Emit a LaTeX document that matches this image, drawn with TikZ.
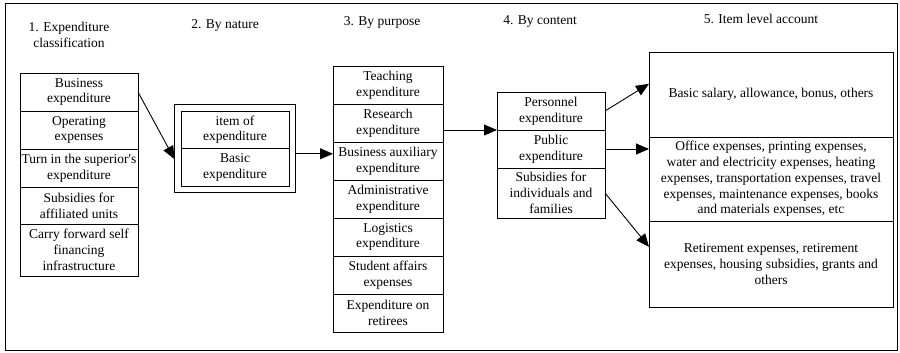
\documentclass[tikz,border=0pt]{standalone}
\usepackage{fontspec}
\setmainfont{Liberation Serif}
\usetikzlibrary{positioning,fit,arrows.meta}

\tikzset{
  cell/.style={draw, line width=0.9pt, align=center, inner sep=0.5pt, outer sep=0pt},
  colA/.style={cell, minimum width=118pt, minimum height=38pt},
  colB/.style={cell, minimum width=108pt, minimum height=37.5pt},
  colC/.style={cell, minimum width=110pt, minimum height=38pt},
  colD/.style={cell, minimum width=108pt, minimum height=38pt},
  colE/.style={cell, minimum width=244pt, minimum height=85pt},
  head/.style={align=center, inner sep=0pt},
  flow/.style={line width=0.9pt, -{Triangle[length=13pt,width=11pt]}},
}

\begin{document}
\begin{tikzpicture}[x=1pt,y=-1pt,font=\fontsize{13.5}{15.8}\selectfont]
\useasboundingbox (0,0) rectangle (900,353);
\draw [line width=0.9pt] (5,3) rectangle (897,350);
% headings
\node[head] (h1) at (69,35) {1. Expenditure\\classification};
\node[head] (h2) at (225,25) {2. By nature};
\node[head] (h3) at (382,22) {3. By purpose};
\node[head] (h4) at (540,22) {4. By content};
\node[head] (h5) at (761,19) {5. Item level account};
% 1. expenditure classification
\node[colA, anchor=north] (c1a) at (79,73) {Business\\expenditure};
\node[colA, below=0pt of c1a] (c1b) {Operating\\expenses};
\node[colA, below=0pt of c1b] (c1c) {Turn in the superior\textquotesingle s\\expenditure};
\node[colA, below=0pt of c1c, minimum height=37pt] (c1d) {Subsidies for\\affiliated units};
\node[colA, below=0pt of c1d, minimum height=52pt] (c1e) {Carry forward self\\financing\\infrastructure};
% 2. by nature
\node[colB, anchor=north] (c2a) at (235,111) {item of\\expenditure};
\node[colB, below=0pt of c2a] (c2b) {Basic\\expenditure};
\node[draw, line width=0.9pt, inner sep=6.5pt, outer sep=0pt, fit=(c2a)(c2b)] (c2box) {};
% 3. by purpose
\node[colC, anchor=north] (c3a) at (388,66) {Teaching\\expenditure};
\node[colC, below=0pt of c3a] (c3b) {Research\\expenditure};
\node[colC, below=0pt of c3b] (c3c) {Business auxiliary\\expenditure};
\node[colC, below=0pt of c3c] (c3d) {Administrative\\expenditure};
\node[colC, below=0pt of c3d] (c3e) {Logistics\\expenditure};
\node[colC, below=0pt of c3e] (c3f) {Student affairs\\expenses};
\node[colC, below=0pt of c3f] (c3g) {Expenditure on\\retirees};
% 4. by content
\node[colD, anchor=north] (c4a) at (551,92) {Personnel\\expenditure};
\node[colD, below=0pt of c4a] (c4b) {Public\\expenditure};
\node[colD, below=0pt of c4b, minimum height=50pt] (c4c) {Subsidies for\\individuals and\\families};
% 5. item level account
\node[colE, anchor=north] (c5a) at (771,52) {Basic salary, allowance, bonus, others};
\node[colE, below=0pt of c5a, minimum height=84pt] (c5b) {Office expenses, printing expenses,\\water and electricity expenses, heating\\expenses, transportation expenses, travel\\expenses, maintenance expenses, books\\and materials expenses, etc};
\node[colE, below=0pt of c5b, minimum height=86pt] (c5c) {Retirement expenses, retirement\\expenses, housing subsidies, grants and\\others};
% connectors
\draw[flow] (c1a.east) -- (c2box.190);
\draw[flow] (c2box.-5) -- (c2box.-5 -| c3c.west);
\draw[flow] (c4a.south west -| c3b.east) -- (c4a.south west);
\draw[flow] (c4a.east) -- (c5a.175);
\draw[flow] (c4b.east) -- (c4b.east -| c5b.west);
\draw[flow] (c4c.east) -- (c5c.172);
\end{tikzpicture}
\end{document}
